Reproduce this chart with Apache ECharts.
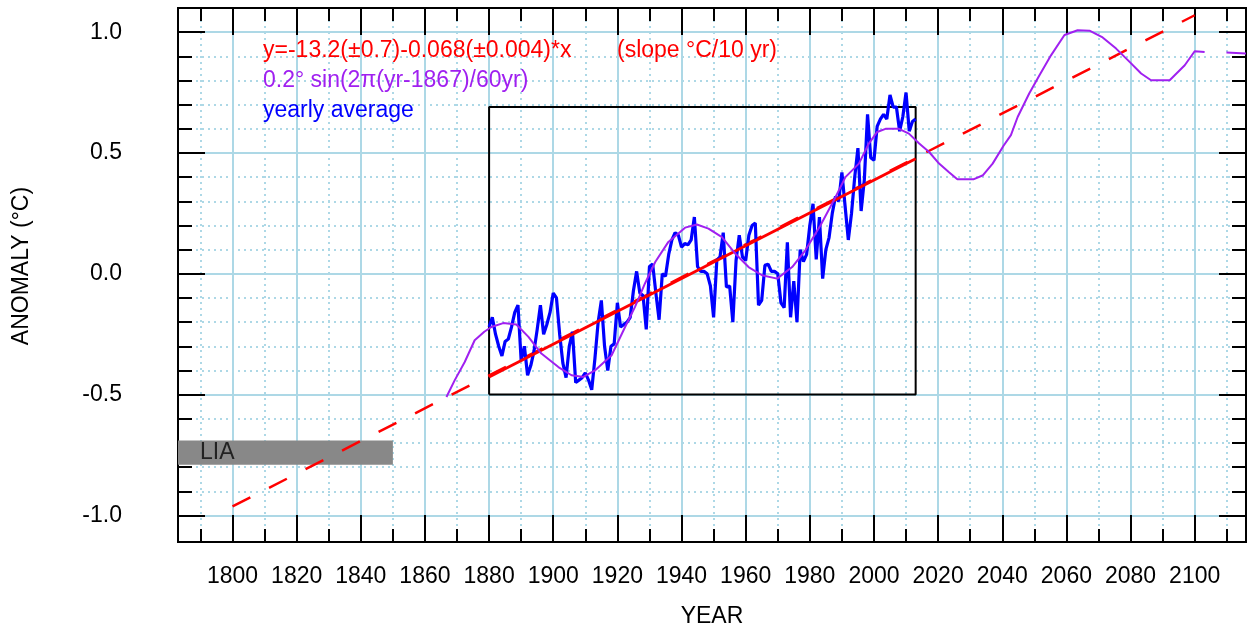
<!DOCTYPE html>
<html>
<head>
<meta charset="utf-8">
<script src="https://cdn.jsdelivr.net/npm/echarts@6/dist/echarts.min.js"></script>
<style>
  html, body { margin: 0; padding: 0; background: #fff; }
  #chart { width: 1247px; height: 632px; }
</style>
</head>
<body>
<div id="chart"></div>
<script>
const FONT = '"Liberation Sans", Arial, sans-serif';
const GRID_COLOR = '#add8e6';

// axis ranges and ticks
const X_MIN = 1783, X_MAX = 2116;
const Y_MIN = -1.11, Y_MAX = 1.1;
const xMajorTicks = [1800, 1820, 1840, 1860, 1880, 1900, 1920, 1940, 1960, 1980, 2000, 2020, 2040, 2060, 2080, 2100];
const xMinorTicks = [1790, 1810, 1830, 1850, 1870, 1890, 1910, 1930, 1950, 1970, 1990, 2010, 2030, 2050, 2070, 2090, 2110];
const yMajorTicks = [-1.0, -0.5, 0, 0.5, 1.0];
const yMinorTicks = [-0.9, -0.8, -0.7, -0.6, -0.4, -0.3, -0.2, -0.1, 0.1, 0.2, 0.3, 0.4, 0.6, 0.7, 0.8, 0.9];

// yearly average anomaly, 1880..2013
const yearStart = 1880;
const yearlyAvg = [
  -0.22, -0.18, -0.25, -0.30, -0.34, -0.28, -0.27, -0.22, -0.16, -0.13,
  -0.36, -0.30, -0.42, -0.38, -0.32, -0.23, -0.13, -0.25, -0.21, -0.16,
  -0.08, -0.10, -0.25, -0.37, -0.43, -0.30, -0.24, -0.45, -0.44, -0.43,
  -0.41, -0.44, -0.48, -0.35, -0.20, -0.11, -0.30, -0.40, -0.30, -0.29,
  -0.12, -0.22, -0.21, -0.20, -0.18, -0.07, 0.01, -0.08, -0.09, -0.23,
  0.03, 0.04, -0.08, -0.19, 0.00, -0.01, 0.08, 0.14, 0.17, 0.16,
  0.11, 0.125, 0.12, 0.14, 0.235, 0.03, 0.01, 0.01, 0.00, -0.05,
  -0.18, 0.055, 0.07, 0.17, -0.055, -0.05, -0.20, 0.055, 0.16, 0.07,
  0.055, 0.16, 0.20, 0.21, -0.13, -0.11, 0.035, 0.04, 0.01, 0.01,
  0.00, -0.12, -0.14, 0.13, -0.18, -0.03, -0.20, 0.10, 0.05, 0.08,
  0.20, 0.29, 0.06, 0.235, -0.02, 0.10, 0.15, 0.25, 0.32, 0.30,
  0.42, 0.28, 0.14, 0.25, 0.40, 0.52, 0.26, 0.39, 0.66, 0.48,
  0.47, 0.61, 0.64, 0.66, 0.64, 0.74, 0.69, 0.69, 0.59, 0.65,
  0.75, 0.59, 0.63, 0.64
];

// 60-yr sine + trend model curve
const sineYears = [
  1866.7, 1869.3, 1872.4, 1875.5, 1878.5, 1880.7, 1884.4, 1888.5, 1892.2, 1896.3,
  1901.6, 1905.7, 1909.4, 1913.0, 1918.2, 1922.4, 1925.5, 1928.6, 1931.8, 1935.9,
  1941.1, 1944.8, 1948.4, 1952.6, 1956.7, 1960.9, 1965.1, 1969.8, 1974.5, 1978.6,
  1983.3, 1987.5, 1991.1, 1995.3, 1998.4, 2001.0, 2003.6, 2007.8, 2010.9, 2014.1,
  2017.2, 2020.3, 2023.4, 2026.0, 2031.0, 2034.0, 2037.0, 2040.4, 2042.7, 2044.8,
  2048.4, 2051.6, 2055.2, 2059.4, 2063.5, 2067.2, 2071.3, 2075.5, 2079.7, 2083.3,
  2086.4, 2092.2, 2096.9, 2100.0, 2103.1, 2106.0, 2109.9, 2116.0
];
const sineVals = [
  -0.51, -0.44, -0.365, -0.275, -0.24, -0.22, -0.204, -0.21, -0.26, -0.33,
  -0.386, -0.42, -0.427, -0.40, -0.337, -0.22, -0.137, -0.04, 0.049, 0.132,
  0.191, 0.204, 0.187, 0.152, 0.084, 0.028, -0.006, -0.02, 0.028, 0.097,
  0.20, 0.304, 0.40, 0.456, 0.539, 0.587, 0.60, 0.60, 0.58, 0.539,
  0.504, 0.456, 0.42, 0.391, 0.391, 0.408, 0.456, 0.53, 0.574, 0.649,
  0.746, 0.822, 0.904, 0.988, 1.008, 1.006, 0.978, 0.932, 0.877, 0.829,
  0.801, 0.801, 0.863, 0.921, 0.918, null, 0.916, 0.912
];

// linear trend: extrapolated (dashed) and fitted period (solid)
const trendYears = [1800, 2100];
const trendVals = [-0.963, 1.07];
const fitYears = [1880, 2013];
const fitVals = [-0.427, 0.476];

// fitting window box and Little Ice Age band
const boxYears = [1880, 2013];
const boxVals = [-0.5, 0.69];
const liaYears = [1783, 1850];
const liaVals = [-0.79, -0.69];

const zip = (xs, ys) => xs.map((x, i) => [x, ys[i]]);
const yearlyData = yearlyAvg.map((v, i) => [yearStart + i, v]);
const boxData = [
  [boxYears[0], boxVals[0]], [boxYears[0], boxVals[1]],
  [boxYears[1], boxVals[1]], [boxYears[1], boxVals[0]],
  [boxYears[0], boxVals[0]]
];

const frameLine = { show: true, onZero: false, lineStyle: { color: '#000', width: 2 } };

function xAxisDef(position, ticks, len, withLabels, split) {
  return {
    type: 'value', min: X_MIN, max: X_MAX, position: position,
    axisLine: frameLine,
    axisTick: { show: true, inside: true, length: len, customValues: ticks, lineStyle: { color: '#000', width: 2 } },
    axisLabel: withLabels
      ? { show: true, customValues: ticks, margin: 23, fontSize: 23, color: '#000', fontFamily: FONT, formatter: (v) => String(v) }
      : { show: false },
    splitLine: split ? { show: true, lineStyle: split } : { show: false }
  };
}

function yAxisDef(position, ticks, len, withLabels, split) {
  return {
    type: 'value', min: Y_MIN, max: Y_MAX, position: position,
    axisLine: frameLine,
    axisTick: { show: true, inside: true, length: len, customValues: ticks, lineStyle: { color: '#000', width: 2 } },
    axisLabel: withLabels
      ? { show: true, customValues: ticks, margin: 56, fontSize: 23, color: '#000', fontFamily: FONT, formatter: (v) => v.toFixed(1) }
      : { show: false },
    splitLine: split ? { show: true, lineStyle: split } : { show: false }
  };
}

const solidGrid = { color: GRID_COLOR, width: 2 };
const dotGrid = { color: GRID_COLOR, width: 2, type: [2, 4] };

const chart = echarts.init(document.getElementById('chart'), null, { renderer: 'canvas' });

const txt = (x, y, text, fill, extra) => Object.assign({
  type: 'text', x: x, y: y, z: 100,
  style: { text: text, fill: fill, fontSize: 23, fontFamily: FONT, verticalAlign: 'middle' }
}, extra || {});

chart.setOption({
  animation: false,
  backgroundColor: '#fff',
  grid: { left: 178, right: 1, top: 8, bottom: 90, containLabel: false },
  xAxis: [
    xAxisDef('bottom', xMinorTicks, 13, false, dotGrid),
    xAxisDef('bottom', xMajorTicks, 27, true, solidGrid),
    xAxisDef('top', xMinorTicks, 13, false, null),
    xAxisDef('top', xMajorTicks, 27, false, null)
  ],
  yAxis: [
    yAxisDef('left', yMinorTicks, 14, false, dotGrid),
    yAxisDef('left', yMajorTicks, 27, true, solidGrid),
    yAxisDef('right', yMinorTicks, 14, false, null),
    yAxisDef('right', yMajorTicks, 27, false, null)
  ],
  graphic: [
    txt(263, 51, 'y=-13.2(±0.7)-0.068(±0.004)*x', '#ff0000'),
    txt(617, 51, '(slope °C/10 yr)', '#ff0000'),
    txt(263, 81, '0.2° sin(2π(yr-1867)/60yr)', '#a020f0'),
    txt(263, 111, 'yearly average', '#0000ff'),
    {
      type: 'text', x: 712, y: 617, z: 100,
      style: { text: 'YEAR', fill: '#000', fontSize: 23, fontFamily: FONT, align: 'center', verticalAlign: 'middle' }
    },
    {
      type: 'text', x: 22, y: 266, z: 100, rotation: Math.PI / 2,
      style: { text: 'ANOMALY (°C)', fill: '#000', fontSize: 23, fontFamily: FONT, align: 'center', verticalAlign: 'middle' }
    }
  ],
  series: [
    {
      name: 'box', type: 'line', xAxisIndex: 0, yAxisIndex: 0, z: 2,
      data: boxData, symbol: 'none', lineStyle: { color: '#000', width: 2 },
      markArea: {
        silent: true,
        itemStyle: { color: '#888888' },
        label: { show: true, position: 'insideLeft', distance: 22, color: '#222', fontSize: 23, fontFamily: FONT },
        data: [[{ name: 'LIA', xAxis: liaYears[0], yAxis: liaVals[0] }, { xAxis: liaYears[1], yAxis: liaVals[1] }]]
      }
    },
    {
      name: 'trend', type: 'line', xAxisIndex: 0, yAxisIndex: 0, z: 3,
      data: zip(trendYears, trendVals), symbol: 'none',
      lineStyle: { color: '#ff0000', width: 2.5, type: [20, 21] }
    },
    {
      name: 'yearly average', type: 'line', xAxisIndex: 0, yAxisIndex: 0, z: 4,
      data: yearlyData, symbol: 'none', lineStyle: { color: '#0000ff', width: 3.2 }
    },
    {
      name: 'fit', type: 'line', xAxisIndex: 0, yAxisIndex: 0, z: 5,
      data: zip(fitYears, fitVals), symbol: 'none', lineStyle: { color: '#ff0000', width: 3 }
    },
    {
      name: 'sine', type: 'line', xAxisIndex: 0, yAxisIndex: 0, z: 6,
      data: zip(sineYears, sineVals), symbol: 'none', connectNulls: false,
      lineStyle: { color: '#a020f0', width: 2 }
    }
  ]
});
</script>
</body>
</html>
